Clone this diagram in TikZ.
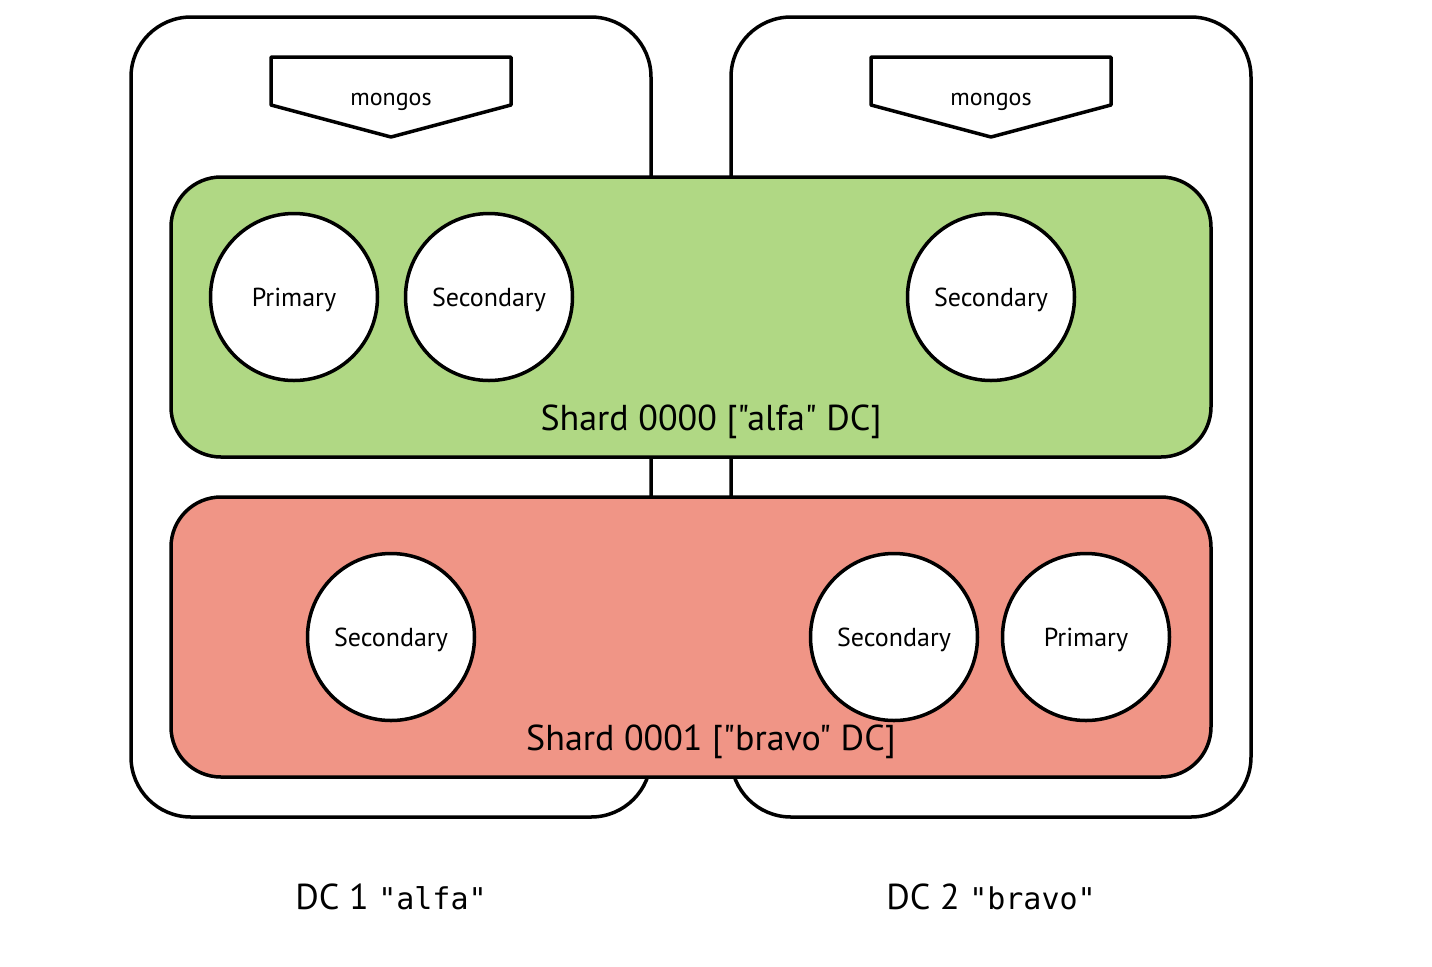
\documentclass[tikz,border=0pt]{standalone}
\usepackage{fontspec}
\setmainfont{PT Sans}[Ligatures=TeXOff]
\setmonofont{DejaVu Sans Mono}
\usepackage{tikz}
\definecolor{shardgreen}{RGB}{176,216,132}
\definecolor{shardred}{RGB}{240,149,134}
\begin{document}
\begin{tikzpicture}[x=0.5pt,y=-0.5pt,line join=round,line width=1.75pt,
	member/.style={draw,circle,fill=white,minimum size=83.5pt,inner sep=0pt,text height=9.5pt,text depth=0pt,font=\fontsize{13}{15}\selectfont},
	dcbox/.style={draw,fill=white,rounded corners=30pt},
	shardbox/.style={draw,rounded corners=25pt},
	label/.style={font=\fontsize{18}{21}\selectfont}]
				\useasboundingbox (0,0) rectangle (1432,966);
				% data centres
				\draw[dcbox] (131,17) rectangle (651,817);
				\draw[dcbox] (731,17) rectangle (1251,817);
				\foreach \x/\n in {391/A,991/B}{
					\draw (\x-120,57) -- (\x+120,57) -- (\x+120,105) -- (\x,137) -- (\x-120,105) -- cycle;
					\node[font=\fontsize{12}{14}\selectfont] (mongos\n) at (\x,102) {mongos};}
				% shards
				\draw[shardbox,fill=shardgreen] (171,177) rectangle (1211,457);
				\draw[shardbox,fill=shardred] (171,497) rectangle (1211,777);
				\node[label] (shardA) at (711,422) {Shard 0000 ["alfa" DC]};
				\node[label] (shardB) at (711,742) {Shard 0001 ["bravo" DC]};
				% replica set members
				\foreach \x/\y/\t/\n in {294/297/Primary/a1,489/297/Secondary/a2,991/297/Secondary/a3,
					391/637/Secondary/b1,894/637/Secondary/b2,1086/637/Primary/b3}{
					\node[member] (\n) at (\x,\y) {\t};}
				\node[label] (dcA) at (391,897) {DC 1 {\fontsize{15}{18}\ttfamily"alfa"}};
				\node[label] (dcB) at (991,897) {DC 2 {\fontsize{15}{18}\ttfamily"bravo"}};
			\end{tikzpicture}
\end{document}
